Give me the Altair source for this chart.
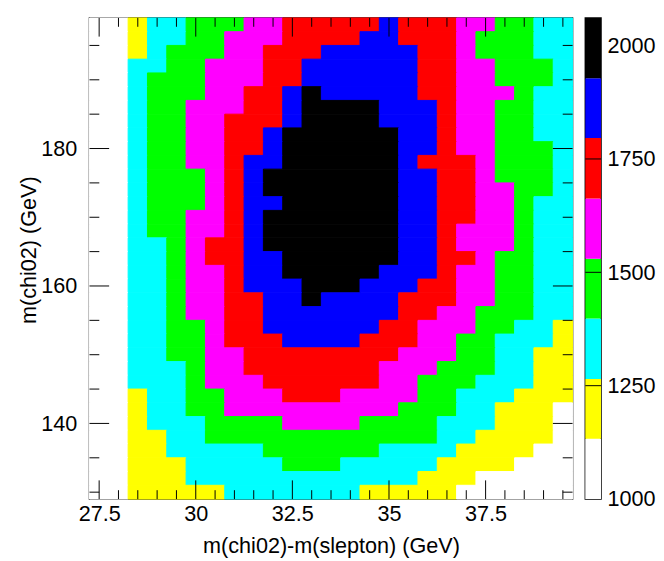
import pandas as pd
import altair as alt

# binning
x_start, x_step = 27.25, 0.5
y_top, y_step = 199, 2

# colour levels of the palette (boundaries)
z_edges = [1000, 1133, 1265, 1398, 1530, 1663, 1796, 1928, 2061]
level_colors = ['#ffffff', '#ffff00', '#00ffff', '#00ff00',
                '#ff00ff', '#ff0000', '#0000ff', '#000000']

# level of every cell, one string per y bin from the top (198) to the bottom (130)
# 0 white, 1 yellow, 2 cyan, 3 green, 4 magenta, 5 red, 6 blue, 7 black
grid = [
    "0012233344555556555443322",
    "0012233444555566555433322",
    "0012333445556666655433322",
    "0022334445566666655443332",
    "0023334445566666655443332",
    "0023334455676666655444322",
    "0023344455677776665443322",
    "0023344555677776665443322",
    "0023344556777777665443322",
    "0023344556777777665443332",
    "0023344566777777655543332",
    "0023334567777777665543332",
    "0023334567777777665544332",
    "0023334566777777665544322",
    "0023344567777777665544322",
    "0023344567777777665444322",
    "0022345567777777665444322",
    "0022345566777777665543322",
    "0022344566777776665443322",
    "0022344566677766655443322",
    "0022344556676666555443322",
    "0022344556666666554433322",
    "0022334556666665544433221",
    "0022334555666655544332221",
    "0022334455555555444332211",
    "0022234455555554443332211",
    "0022234445555554433322211",
    "0012233444555444433222111",
    "0012233444444444333221110",
    "0012223333444433332221110",
    "0011223333333333332211110",
    "0011222223333332222111100",
    "0011122222333222221111000",
    "0011122222222222211100000",
    "0011111222222211111000000",
]

# axis ticks
x_major = [27.5, 30, 32.5, 35, 37.5]
x_minor = [28, 28.5, 29, 29.5, 30.5, 31, 31.5, 32, 33, 33.5, 34, 34.5,
           35.5, 36, 36.5, 37, 38, 38.5, 39, 39.5]
y_major = [140, 160, 180]
y_minor = [130, 135, 145, 150, 155, 165, 170, 175, 185, 190, 195]
z_labels = [1000, 1250, 1500, 1750, 2000]
z_ticks = [1250, 1500, 1750]

W, H = 492, 490
FONT = 'Liberation Sans'
FS = 22

z_mid = [(a + b) / 2 for a, b in zip(z_edges[:-1], z_edges[1:])]

# one rect per run of equal level along a row (avoids seams between cells)
rows = []
for j, line in enumerate(grid):
    i = 0
    while i < len(line):
        k = i
        while k + 1 < len(line) and line[k + 1] == line[i]:
            k += 1
        rows.append({'x0': x_start + i * x_step, 'x1': x_start + (k + 1) * x_step,
                     'y0': y_top - (j + 1) * y_step, 'y1': y_top - j * y_step,
                     'z': z_mid[int(line[i])]})
        i = k + 1
cells = pd.DataFrame(rows)

xs = alt.Scale(domain=[x_start, x_start + 25 * x_step], nice=False, zero=False)
ys = alt.Scale(domain=[y_top - 35 * y_step, y_top], nice=False, zero=False)
zcol = alt.Scale(type='threshold', domain=z_edges[1:-1], range=level_colors)

heat = alt.Chart(cells).mark_rect(strokeWidth=1).encode(
    x=alt.X('x0:Q', scale=xs, title='m(chi02)-m(slepton) (GeV)',
            axis=alt.Axis(values=x_major, labelExpr="toString(datum.value)",
                          labelPadding=5, titlePadding=11)),
    x2='x1:Q',
    y=alt.Y('y0:Q', scale=ys, title='m(chi02) (GeV)',
            axis=alt.Axis(values=y_major, labelPadding=13, titleX=-62, titleY=236,
                          titleBaseline='middle')),
    y2='y1:Q',
    color=alt.Color('z:Q', scale=zcol, legend=None),
    stroke=alt.Stroke('z:Q', scale=zcol, legend=None),
)


def xticks(vals, a, b):
    return alt.Chart(pd.DataFrame({'v': vals})).mark_rule(color='black', strokeWidth=1).encode(
        x=alt.X('v:Q', scale=xs, axis=None), y=alt.value(a), y2=alt.value(b))


def yticks(vals, a, b, scale=ys):
    return alt.Chart(pd.DataFrame({'v': vals})).mark_rule(color='black', strokeWidth=1).encode(
        y=alt.Y('v:Q', scale=scale, axis=None), x=alt.value(a), x2=alt.value(b))


main = alt.layer(
    heat,
    xticks(x_major, H, H - 19), xticks(x_minor, H, H - 9),
    xticks(x_major, 0, 19), xticks(x_minor, 0, 9),
    yticks(y_major, 0, 20), yticks(y_minor, 0, 10),
    yticks(y_major, W, W - 20), yticks(y_minor, W, W - 10),
).resolve_axis(x='independent', y='independent').properties(width=W, height=H)

# colour bar
zs = alt.Scale(domain=[z_edges[0], z_edges[-1]], nice=False, zero=False)
bar_df = pd.DataFrame({'lo': z_edges[:-1], 'hi': z_edges[1:], 'col': level_colors})
bar = alt.Chart(bar_df).mark_rect().encode(
    y=alt.Y('lo:Q', scale=zs, title=None,
            axis=alt.Axis(orient='right', values=z_labels, format='d', labelPadding=6)),
    y2='hi:Q',
    x=alt.value(0), x2=alt.value(16),
    color=alt.Color('col:N', scale=None),
)
colorbar = alt.layer(bar, yticks(z_ticks, 0, 16, zs)).resolve_axis(
    y='independent').properties(width=16, height=H)

chart = alt.hconcat(main, colorbar, spacing=9).properties(
    padding={'left': 9, 'top': 3, 'right': 0, 'bottom': 0}
).configure_view(
    stroke='black', strokeWidth=1.5
).configure_axis(
    domain=False, ticks=False, tickSize=0, grid=False,
    labelFont=FONT, titleFont=FONT, labelFontSize=FS, titleFontSize=FS,
    titleFontWeight='normal', labelColor='black', titleColor='black'
)

chart.save("out.html", embed_options={"renderer": "svg", "actions": False})
